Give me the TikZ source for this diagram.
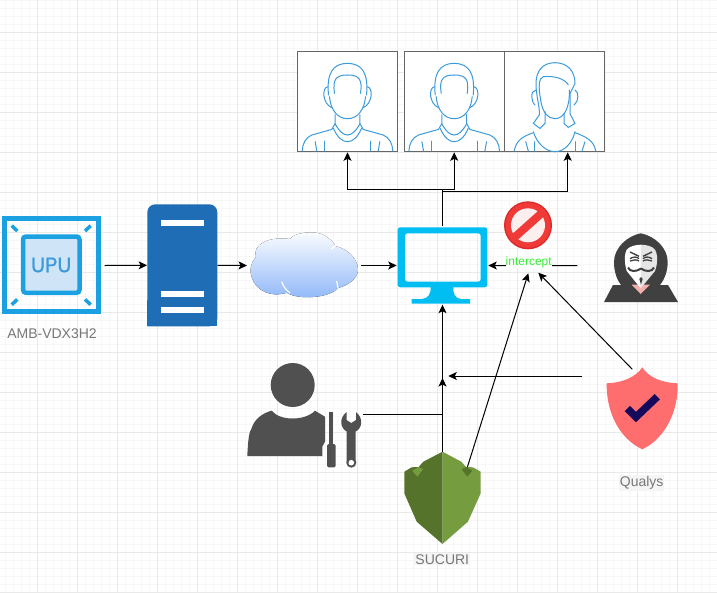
\documentclass[tikz,border=0pt]{standalone}
\usepackage{fontspec}
\setmainfont{Liberation Sans}
\newfontfamily\upufont[FakeBold=0.7]{Poppins}
\usetikzlibrary{arrows.meta}
\definecolor{gridminor}{HTML}{F7F7F7}
\definecolor{gridmajor}{HTML}{E9E9E9}
\definecolor{upublue}{HTML}{1BA1E2}
\definecolor{upufill}{HTML}{CFE4F7}
\definecolor{serverblue}{HTML}{1F6DB5}
\definecolor{cloudblue}{HTML}{8DB6F9}
\definecolor{screenblue}{HTML}{00BEF2}
\definecolor{personblue}{HTML}{3D9BDB}
\definecolor{boxgray}{HTML}{666666}
\definecolor{labelgray}{HTML}{777777}
\definecolor{toolgray}{HTML}{505050}
\definecolor{hoodgray}{HTML}{404040}
\definecolor{stopred}{HTML}{F03A38}
\definecolor{stopdark}{HTML}{DC2A2A}
\definecolor{maskpink}{HTML}{F2B0AA}
\definecolor{leafdark}{HTML}{55732B}
\definecolor{leaflight}{HTML}{759C3E}
\definecolor{shieldred}{HTML}{FF6E6E}
\definecolor{shieldnavy}{HTML}{15095C}
\definecolor{interceptgreen}{HTML}{33EE33}
\tikzset{
  iconbox/.style={draw=none, inner sep=0pt},
  person/.style={draw=boxgray, fill=white, line width=1pt, inner sep=0pt, minimum width=100pt, minimum height=99.6pt, outer sep=1pt},
  flow/.style={-{Stealth[length=8.5pt,width=8pt,inset=2pt]}, line width=1pt, black},
  plainflow/.style={line width=1pt, black},
  caption/.style={text=labelgray, inner sep=1pt, font=\fontsize{14}{16}\selectfont},
  facepen/.style={personblue, line width=1pt, line cap=round},
  man/.pic={
    \foreach \m in {1,-1}{
      \begin{scope}[shift={(50,0)},xscale=\m]
        \draw[facepen] (-19,43.3) .. controls (-21,22) and (-15,11.7) .. (0,11.7);
        \draw[facepen] (-13,41.7) .. controls (-15,28) and (-12,23.3) .. (0,23.3);
        \draw[facepen] (-18,45) .. controls (-17,58) and (-10,67) .. (0,67);
        \draw[facepen] (-19.7,35) .. controls (-26,36) and (-25,52) .. (-15.7,56);
        \draw[facepen] (-12.3,63) -- (-12.3,71.7) -- (-15.7,77.7) -- (-35.7,83.3) .. controls (-42,86) and (-45,92) .. (-45.3,99.3);
        \draw[facepen] (-14,76.7) .. controls (-10,86) and (-5,90) .. (0,90);
        \draw[facepen] (-12.5,72) .. controls (-8,80) and (-4,83.3) .. (0,83.3);
        \draw[facepen] (-32.3,90) -- (-30.7,99.3);
        \draw[facepen] (-23,89.3) -- (-23,99.3);
      \end{scope}
    }
  },
  woman/.pic={
    \draw[facepen] (51,11) .. controls (38,11) and (32,20) .. (32,31.7) .. controls (32,45) and (36,55) .. (35.3,63.3) -- (29.3,71.7) -- (36,76.7) -- (41,71.7) -- (41,60);
    \draw[facepen] (51,11) .. controls (64,11) and (71,20) .. (71,31.7) -- (66,41.7) -- (66,62) -- (71,71.7) -- (64.3,75.7) -- (60,71.7) -- (60,61.7);
    \draw[facepen] (36.7,48.3) .. controls (34,35) and (35,26) .. (39.3,25) .. controls (48,24) and (60,26) .. (64.3,33);
    \draw[facepen] (36.7,48.3) .. controls (38,60) and (44,67) .. (51,67) .. controls (60,67) and (66,56) .. (65.3,38.3);
    \draw[facepen] (32,38.3) .. controls (26,39) and (27,50) .. (31,53.3);
    \draw[facepen] (71,38.3) .. controls (75,40) and (75,50) .. (70,53.3);
    \draw[facepen] (29.3,80) .. controls (33,92) and (42,100) .. (51,100) .. controls (60,100) and (68,92) .. (71,80);
    \draw[facepen] (29.3,81) .. controls (18,85) and (12,89) .. (10.3,99.3);
    \draw[facepen] (71,81) .. controls (82,85) and (90,89) .. (91.7,99.3);
    \draw[facepen] (21.7,90) -- (24.3,99.3);
    \draw[facepen] (30,90) -- (30,99.3);
    \draw[facepen] (71,90) -- (71,99.3);
    \draw[facepen] (81,90) -- (78,99.3);
  }
}
\begin{document}
\begin{tikzpicture}[x=1pt,y=-1pt]
\useasboundingbox (0,0) rectangle (717,592);
%%%%%%%%%%%%%%%%%%%%%%%%%%%%%%%%%%%%%%%%%%% GRID
\fill[white] (0,0) rectangle (717,592);
\foreach \x in {5,13,...,717} \draw[gridminor, line width=.6pt] (\x,0) -- (\x,592);
\foreach \y in {0,8,...,592} \draw[gridminor, line width=.6pt] (0,\y) -- (717,\y);
\foreach \x in {37,77,...,717} \draw[gridmajor, line width=.8pt] (\x,0) -- (\x,592);
\foreach \y in {32,72,...,592} \draw[gridmajor, line width=.8pt] (0,\y) -- (717,\y);

%%%%%%%%%%%%%%%%%%%%%%%%%%%%%%%%%%%%%%%%%%% people at the top
\node[person] (man1) at (347.5,101.5) {};
\node[person] (man2) at (454.2,101.5) {};
\node[person] (woman) at (554,101.5) {};
\pic at (297.5,51.7) {man};
\pic at (404.2,51.7) {man};
\pic at (504,51.7) {woman};

%%%%%%%%%%%%%%%%%%%%%%%%%%%%%%%%%%%%%%%%%%% UPU
\node[iconbox, minimum width=99pt, minimum height=98pt, outer sep=4pt] (upu) at (51.2,265.5) {};
\draw[upublue, line width=5pt] (4.2,218.2) rectangle (98.2,311.5);
\draw[upublue, line width=4.5pt, fill=upufill, rounded corners=3pt] (23,236.5) rectangle (79.5,292.8);
\foreach \a/\b/\c/\d in {11.7/225.7/17.3/231, 90.7/225.7/85/231, 11.7/304.7/17.3/299.4, 90.7/304.7/85/299.4}
  \draw[upublue, line width=3.5pt] (\a,\b) -- (\c,\d);
\node[inner sep=0pt, text=personblue] (upuname) at (51.2,265) {\upufont\fontsize{21}{23}\selectfont UPU};
\node[caption] (upulabel) at (52,334) {AMB-VDX3H2};

%%%%%%%%%%%%%%%%%%%%%%%%%%%%%%%%%%%%%%%%%%% server
\node[iconbox, minimum width=70pt, minimum height=122pt] (server) at (182.3,265.3) {};
\fill[serverblue, rounded corners=8pt] (147.3,326.3) -- (147.3,204.3) -- (217.3,204.3) -- (217.3,326.3) [sharp corners] -- cycle;
\fill[serverblue] (147.3,300) rectangle (217.3,326.3);
\foreach \y in {220,291.3,307}
  \fill[white] (161,\y) rectangle +(43,5.5);

%%%%%%%%%%%%%%%%%%%%%%%%%%%%%%%%%%%%%%%%%%% cloud
\node[iconbox, minimum width=108pt, minimum height=66pt, outer sep=3pt] (cloud) at (304,265.5) {};
\fill[top color=white, bottom color=cloudblue]
  (286.7,292.7) .. controls (270,298) and (256,290) .. (252,278)
  .. controls (249,270) and (251,262) .. (256,257)
  .. controls (252,245) and (268,236) .. (290,239)
  .. controls (294,232) and (320,229) .. (328,238)
  .. controls (331,240) and (334,243) .. (335.5,246)
  .. controls (350,250) and (358,260) .. (358,270)
  .. controls (358,278) and (348,286) .. (337.5,288)
  .. controls (332,297) and (300,301) .. (286.7,292.7) -- cycle;
\draw[white, line width=1.2pt] (281.7,281.7) .. controls (283,286) and (286,290) .. (290,293);
\draw[white, line width=1.2pt] (336.7,281) -- (338,288);
\draw[white, line width=1.2pt] (331,249) -- (336,245);

%%%%%%%%%%%%%%%%%%%%%%%%%%%%%%%%%%%%%%%%%%% monitor
\node[iconbox, minimum width=89.6pt, minimum height=76.4pt, outer sep=1pt] (screen) at (442.5,265.5) {};
\fill[screenblue, even odd rule, rounded corners=2.5pt] (397.7,227.3) rectangle (487.3,287.3) (405,233.3) rectangle (480.7,281.7);
\fill[screenblue] (430.7,286) .. controls (431,295) and (428,298) .. (422,299) -- (411.7,299) -- (411.7,303.7) -- (470,303.7) -- (470,299) -- (461,299) .. controls (455,298) and (453,295) .. (453.3,286) -- cycle;

%%%%%%%%%%%%%%%%%%%%%%%%%%%%%%%%%%%%%%%%%%% stop sign
\node[iconbox, minimum size=48pt] (stop) at (528,225.3) {};
\fill[stopdark] (stop.center) circle (24);
\fill[stopred] (stop.center) circle (22.5);
\fill[stopred!8] (stop.center) circle (17);
\draw[stopred, line width=8pt] (514,237.8) -- (542,212.8);

%%%%%%%%%%%%%%%%%%%%%%%%%%%%%%%%%%%%%%%%%%% hacker
\node[iconbox, minimum width=74pt, minimum height=69pt] (hacker) at (641,267.5) {};
\fill[hoodgray] (640.7,233.3) .. controls (655,236) and (667.7,248) .. (667.7,262) .. controls (667.7,272) and (664,280) .. (660,285) -- (668,285) -- (678,302) -- (604,302) -- (613,285) -- (621,285) .. controls (617,280) and (614,272) .. (614,262) .. controls (614,248) and (627,236) .. (640.7,233.3) -- cycle;
\fill[maskpink] (631.7,284.7) -- (650,284.7) -- (640.7,294) -- cycle;
\fill[white] (641,244.7) .. controls (635,245) and (630,246) .. (626.7,249.7) .. controls (625,253) and (624.5,258) .. (625,261) .. controls (625,265) and (626,268) .. (626.7,271) -- (640.7,288.3) -- cycle;
\fill[black!10] (641,244.7) .. controls (647,245) and (652,246) .. (655,249.7) .. controls (657,253) and (657.5,258) .. (657,261) .. controls (657,265) and (656,268) .. (655,271) -- (640.7,288.3) -- cycle;
\foreach \m in {1,-1}{
  \begin{scope}[shift={(641,0)},xscale=\m]
    \draw[hoodgray, line width=1.4pt] (-11,252) -- (-2,256.3);
    \draw[hoodgray, line width=1.3pt] (-11,258.7) .. controls (-8,256.5) and (-4,256.5) .. (-2,258.7);
    \draw[hoodgray, line width=1.3pt] (-11,261) .. controls (-8,259.5) and (-4,259.5) .. (-2,261);
    \draw[hoodgray, line width=2pt] (-13,267.5) .. controls (-11,272) and (-5,272) .. (0,268.5);
    \fill[hoodgray] (0,277) -- (-1.7,279) -- (0,284) -- cycle;
  \end{scope}
}

%%%%%%%%%%%%%%%%%%%%%%%%%%%%%%%%%%%%%%%%%%% technician
\node[iconbox, minimum width=115pt, minimum height=105pt] (tech) at (305,415) {};
\fill[toolgray] (292.7,385) circle (22);
\fill[toolgray] (247.3,456) .. controls (248,440) and (249,432) .. (251.7,428) .. controls (254,420) and (262,413) .. (271.7,410.7) .. controls (276,416) and (284,418.5) .. (292.7,418.5) .. controls (301,418.5) and (310,416) .. (315,410.7) -- (325,416.7) -- (325,441.7) -- (322.3,446.7) -- (322.3,456) -- cycle;
\fill[toolgray] (329.3,412.3) rectangle (333.3,445);
\fill[toolgray, rounded corners=1.5pt] (327,444) rectangle (335.7,467.3);
\fill[toolgray] (346.5,412) .. controls (339,418) and (340,428) .. (346.7,431.5) -- (346.7,462) -- (355.7,462) -- (355.7,431.5) .. controls (362.5,428) and (363.5,418) .. (356,412) -- (356,420) -- (351.3,423) -- (346.5,420) -- cycle;
\fill[toolgray] (351.3,462.7) circle (5);
\fill[white] (351.3,462.7) circle (2.8);

%%%%%%%%%%%%%%%%%%%%%%%%%%%%%%%%%%%%%%%%%%% SUCURI
\node[iconbox, minimum width=76.4pt, minimum height=92.3pt] (sucuri) at (442.5,497.85) {};
\fill[leafdark] (442.5,451.7) -- (423.3,461.7) -- (418.6,467) -- (411.6,467.3) -- (404.3,471.7) -- (404.3,493.3) -- (416.7,521.7) -- (442.5,544) -- cycle;
\fill[leaflight] (442.5,451.7) -- (461.3,461.7) -- (466,467) -- (473,467.3) -- (480.7,471.7) -- (480.7,493.3) -- (467.9,521.7) -- (442.5,544) -- cycle;
\fill[leafdark] (461.7,469.3) -- (466,467) -- (472.3,470.7) -- (467.3,476.7) -- cycle;
\fill[leaflight] (423,469.3) -- (418.6,467) -- (412.3,470.7) -- (417.3,476.7) -- cycle;
\node[caption, fill=black!4] (sucurilabel) at (442.3,559.3) {SUCURI};

%%%%%%%%%%%%%%%%%%%%%%%%%%%%%%%%%%%%%%%%%%% Qualys
\node[iconbox, minimum width=71pt, minimum height=82pt] (qualys) at (642.3,408.3) {};
\fill[shieldred] (642.3,367.3) .. controls (636,377) and (622,383) .. (606.7,383.3) .. controls (606,410) and (618,438) .. (642.3,449.3) .. controls (666,438) and (678.5,410) .. (677.7,383.3) .. controls (662,383) and (648,377) .. (642.3,367.3) -- cycle;
\draw[shieldnavy, line width=7.5pt] (627.3,408.5) -- (636,417) -- (657.3,396.7);
\node[caption, fill=black!4] (qualyslabel) at (641.7,483) {Qualys};

%%%%%%%%%%%%%%%%%%%%%%%%%%%%%%%%%%%%%%%%%%% connector ends
\coordinate (forkleft) at (442.5,189.3);
\coordinate (forkright) at (442.5,191.7);
\coordinate (womantip) at (567.7,152.3);
\coordinate (hackerout) at (577.3,265.7);
\coordinate (techout) at (362.7,414.3);
\coordinate (guardtip) at (442.5,378);
\coordinate (qualysout) at (582.3,376);
\coordinate (qualystip) at (448.3,376);
\coordinate (qualysup) at (632.3,369.3);
\coordinate (interceptright) at (538.3,272.7);
\coordinate (sucuriup) at (467.3,467.3);
\coordinate (interceptleft) at (528.3,273.3);

%%%%%%%%%%%%%%%%%%%%%%%%%%%%%%%%%%%%%%%%%%% connectors
\draw[flow] (upu.east) -- (server.west);
\draw[flow] (server.east) -- (cloud.west);
\draw[flow] (cloud.east) -- (screen.west);
\draw[plainflow] (screen.north) -- (forkleft);
\draw[flow] (forkleft) -| (man1.south);
\draw[flow] (forkleft) -| (man2.south);
\draw[flow] (forkright) -| (womantip);
\draw[flow] (hackerout) -- node[pos=.546, yshift=3pt, fill=white, inner sep=0pt, text=interceptgreen, font=\fontsize{12}{14}\selectfont] (intercept) {intercept} (screen.east);
\draw[flow] (techout) -| (screen.south);
\draw[flow] (sucuri.north) -- (guardtip);
\draw[flow] (qualysout) -- (qualystip);
\draw[flow] (qualysup) -- (interceptright);
\draw[flow] (sucuriup) -- (interceptleft);

\end{tikzpicture}
\end{document}
